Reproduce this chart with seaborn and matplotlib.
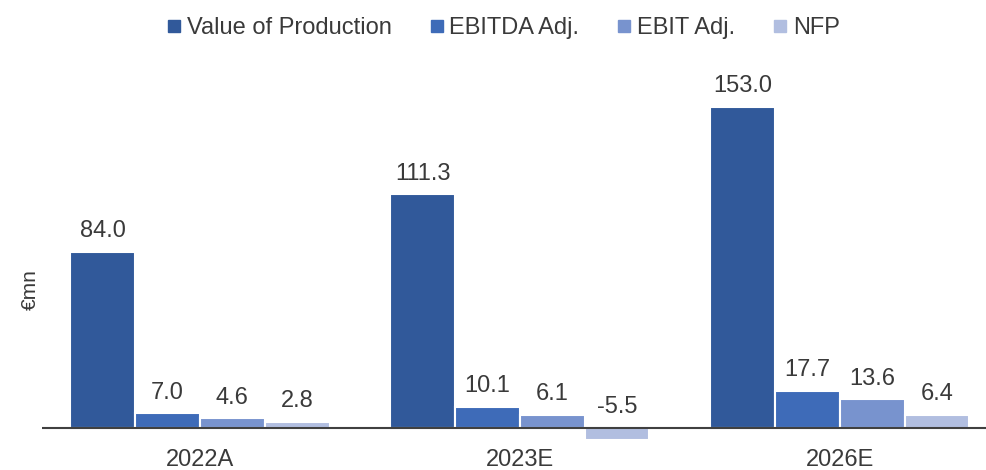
import matplotlib
matplotlib.use("Agg")
import matplotlib.pyplot as plt
import seaborn as sns
import pandas as pd
from matplotlib.lines import Line2D

categories = ["2022A", "2023E", "2026E"]
series = ["Value of Production", "EBITDA Adj.", "EBIT Adj.", "NFP"]
value_of_production = [84.0, 111.3, 153.0]
ebitda_adj = [7.0, 10.1, 17.7]
ebit_adj = [4.6, 6.1, 13.6]
nfp = [2.8, -5.5, 6.4]
colors = ["#31599A", "#3E6BB8", "#7893CE", "#B1BEE0"]

vals = [value_of_production, ebitda_adj, ebit_adj, nfp]
rows = []
for s, v in zip(series, vals):
    for c, x in zip(categories, v):
        rows.append({"Year": c, "Series": s, "Value": x})
df = pd.DataFrame(rows)

sns.set_theme(style="white")
plt.rcParams["font.family"] = ["Liberation Sans", "DejaVu Sans"]
txt = "#3A3A3A"

fig = plt.figure(figsize=(9.86, 4.70), dpi=100)
ax = fig.add_axes([0.0426, 0.0536, 0.957, 0.773])
sns.barplot(data=df, x="Year", y="Value", hue="Series", order=categories,
            hue_order=series, palette=colors, width=0.81, edgecolor="white",
            linewidth=1.5, saturation=1, ax=ax, legend=False)

ax.set_xlim(-0.49375, 2.456)
ax.set_ylim(-8, 165)
ax.axhline(0, color="#404040", lw=1.5, zorder=5)
for sp in ax.spines.values():
    sp.set_visible(False)
ax.set_yticks([])
ax.set_xlabel("")
ax.set_ylabel("€mn", fontsize=15, color=txt)
ax.yaxis.set_label_coords(-0.002, 0.426)
ax.tick_params(axis="x", length=0, pad=3, labelsize=17, labelcolor=txt)

for cont, v in zip(ax.containers, vals):
    for p, val in zip(cont.patches, v):
        xc = p.get_x() + p.get_width() / 2
        ax.annotate(f"{val:.1f}", (xc, max(val, 0)), xytext=(0, 7),
                    textcoords="offset points", ha="center", va="bottom",
                    fontsize=17, color=txt)

handles = [Line2D([], [], marker="s", linestyle="", markersize=8.5,
                  markerfacecolor=c, markeredgecolor=c) for c in colors]
fig.legend(handles, series, loc="upper center", bbox_to_anchor=(0.51, 1.008),
           ncol=4, frameon=False, fontsize=17, handlelength=0.7,
           handletextpad=0.2, columnspacing=1.55, labelcolor=txt)

fig.savefig("out.png", dpi=100)
